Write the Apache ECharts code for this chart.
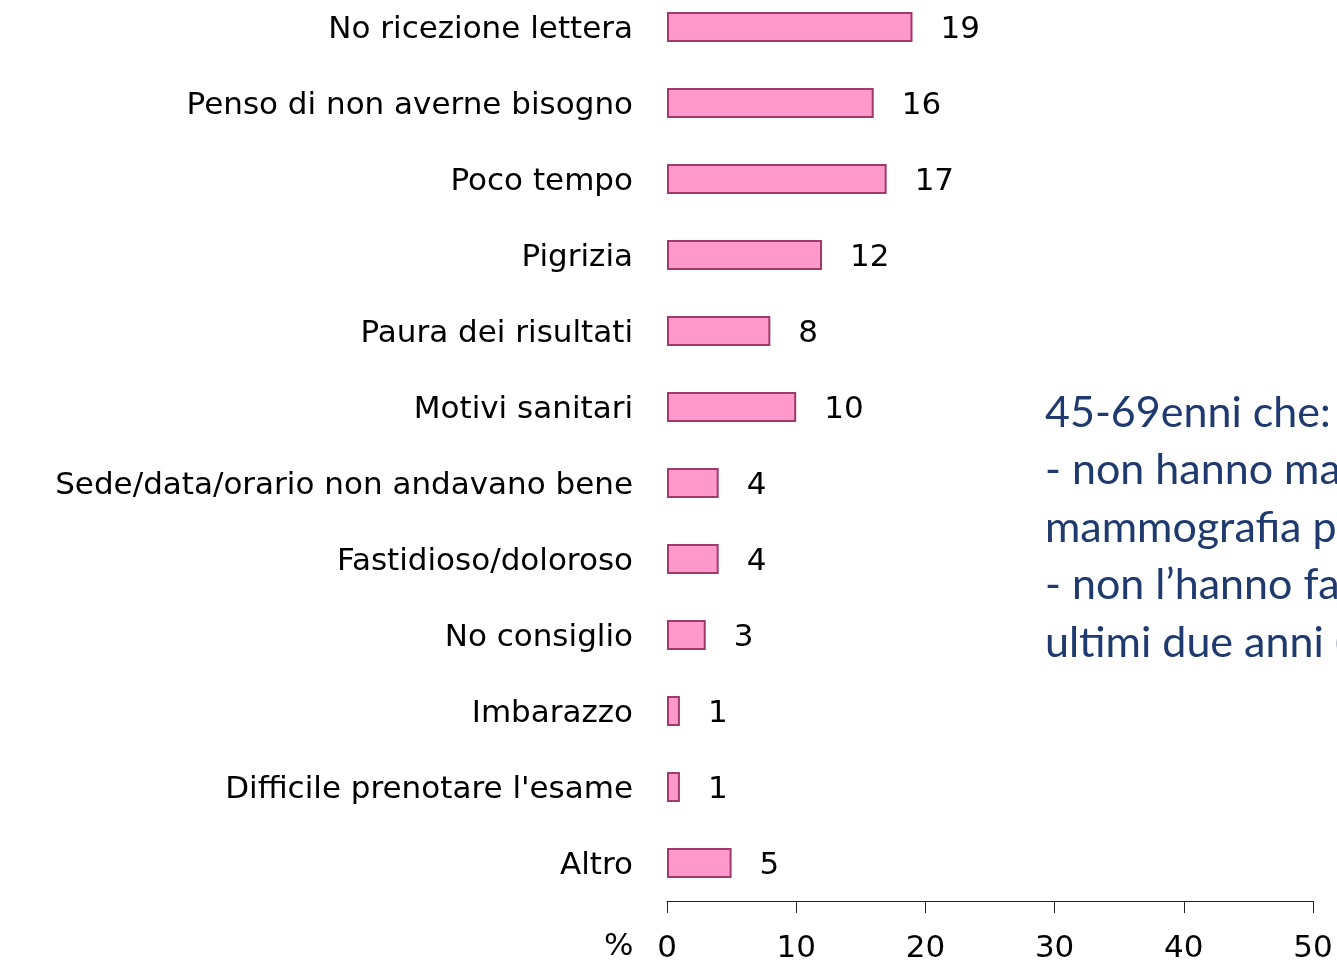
<!DOCTYPE html>
<html>
<head>
<meta charset="utf-8">
<script src="https://cdn.jsdelivr.net/npm/echarts@6/dist/echarts.min.js"></script>
<style>
html, body { margin: 0; padding: 0; background: #fff; overflow: hidden; }
/* il grafico parte 11px sopra il bordo, come nell'originale */
#main { width: 1337px; height: 971px; margin-top: -11px; }
</style>
</head>
<body>
<div id="main"></div>
<script>
// categorie (dall'alto verso il basso)
var categories = [
	"No ricezione lettera",
	"Penso di non averne bisogno",
	"Poco tempo",
	"Pigrizia",
	"Paura dei risultati",
	"Motivi sanitari",
	"Sede/data/orario non andavano bene",
	"Fastidioso/doloroso",
	"No consiglio",
	"Imbarazzo",
	"Difficile prenotare l'esame",
	"Altro"
];
// valori percentuali
var values = [19, 16, 17, 12, 8, 10, 4, 4, 3, 1, 1, 5];
var xTicks = [0, 10, 20, 30, 40, 50];
var noteLines = [
	"45-69enni che:",
	"- non hanno mai fatto una",
	"mammografia preventiva",
	"- non l\u2019hanno fatta negli",
	"ultimi due anni (%)"
];

var myChart = echarts.init(document.getElementById('main'));
var option = {
	animation: false,
	grid: {
		left: 667,
		right: 24,
		top: 0,
		bottom: 59,
		outerBoundsMode: 'none'
	},
	xAxis: {
		type: 'value',
		min: xTicks[0],
		max: xTicks[xTicks.length - 1],
		interval: 10,
		splitLine: { show: false },
		axisLine: { show: true, lineStyle: { color: '#222', width: 1 } },
		axisTick: { show: true, length: 12, lineStyle: { color: '#222' } },
		axisLabel: {
			margin: 32,
			color: '#000',
			fontFamily: 'DejaVu Sans',
			fontSize: 31
		}
	},
	yAxis: {
		type: 'category',
		inverse: true,
		data: categories,
		axisLine: { show: false },
		axisTick: { show: false },
		axisLabel: {
			margin: 34,
			verticalAlign: 'top',
			lineHeight: 6,
			color: '#000',
			fontFamily: 'DejaVu Sans',
			fontSize: 31
		}
	},
	series: [{
		type: 'bar',
		data: values,
		barWidth: 30,
		itemStyle: {
			color: '#FF99CC',
			borderColor: '#9E3A6C',
			borderWidth: 2
		},
		label: {
			show: true,
			position: 'right',
			distance: 28,
			offset: [0, 3],
			color: '#000',
			fontFamily: 'DejaVu Sans',
			fontSize: 31
		}
	}],
	graphic: [{
		type: 'text',
		left: 604,
		top: 942,
		style: {
			text: '%',
			fill: '#000',
			font: '31px "DejaVu Sans"'
		}
	}, {
		type: 'text',
		left: 1045,
		top: 395,
		style: {
			text: noteLines.join('\n'),
			fill: '#1F3A6E',
			font: '43px Lato',
			lineHeight: 57.5
		}
	}]
};
myChart.setOption(option);
</script>
</body>
</html>
